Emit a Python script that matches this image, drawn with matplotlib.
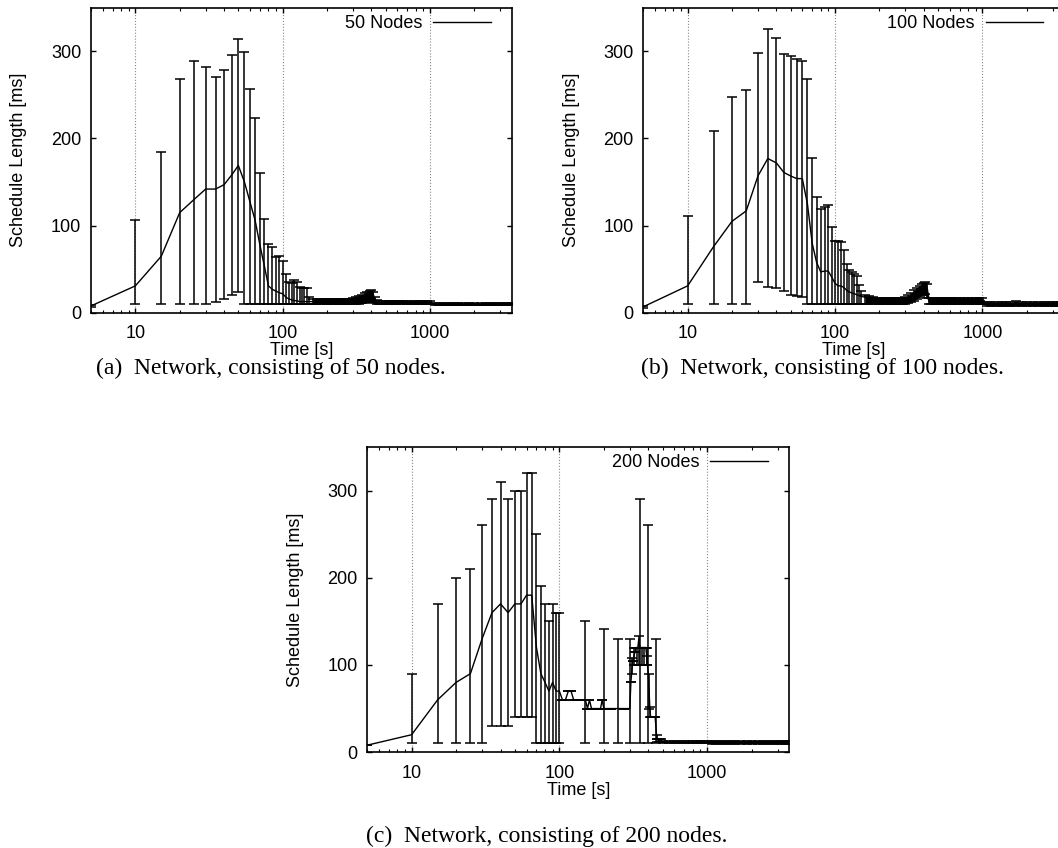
import numpy as np
import matplotlib
matplotlib.use("Agg")
import matplotlib.pyplot as plt
from matplotlib.ticker import LogLocator, NullFormatter

SANS = ["Liberation Sans", "DejaVu Sans"]
SERIF = ["Liberation Serif", "DejaVu Serif"]
plt.rcParams["font.family"] = SANS

# ---------------- data ----------------
# common sampling of the first 150 s (every 5 s)
early_t = [5, 10, 15, 20, 25, 30, 35, 40, 45, 50, 55, 60, 65, 70, 75,
           80, 85, 90, 95, 100, 105, 110, 115, 120, 125, 130, 135, 140, 145, 150]

# later sample times used for the long tail
tail_t = [160, 170, 180, 190, 200, 210, 220, 230, 240, 250,
          260, 270, 280, 290, 300, 315, 330, 345, 360, 375,
          390, 400, 410, 420, 435, 450, 475, 500, 525, 550,
          575, 600, 625, 650, 700, 750, 800, 850, 900, 950,
          1000, 1075, 1150, 1250, 1350, 1450, 1550, 1700, 1850, 2000,
          2200, 2400, 2600, 2800, 3000, 3200, 3400, 3600]

# ---- 50 nodes ----
a_early_mean = [8, 31, 65, 115, 130, 142, 142, 147, 158, 169, 150, 127, 106, 78, 54,
                31, 27, 25, 23, 22, 18, 16, 15, 14, 14, 13, 13, 13, 13, 13]
a_early_lo = [7, 10, 10, 10, 10, 10, 13, 16, 21, 24, 10, 10, 10, 10, 10,
              10, 10, 10, 10, 10, 10, 10, 10, 10, 10, 10, 10, 10, 10, 10]
a_early_hi = [9, 106, 184, 268, 289, 282, 271, 279, 296, 314, 299, 257, 223, 160, 108,
              79, 75, 64, 65, 59, 45, 35, 34, 38, 35, 30, 29, 29, 28, 18]
a_tail_mean = [13, 13, 13, 13, 13, 13, 13, 13, 13, 13,
               13, 13, 13, 13, 13.5, 14, 15, 16, 17.5, 19,
               20, 20, 18, 14, 12, 11.5, 11.5, 11.5, 11.5, 11.5,
               11.5, 11.5, 11.5, 11.5, 11.5, 11.5, 11.5, 11.5, 11.5, 11.5,
               11.5, 10, 10, 10, 10, 10, 10, 10, 10, 10,
               10, 10, 10, 10, 10, 10, 10, 10]
a_tail_lo = [10, 10, 10, 10, 10, 10, 10, 10, 10, 10,
             10, 10, 10, 10, 10, 10, 10.5, 11, 11.5, 12,
             13, 13, 12, 11, 10, 10, 10, 10, 10, 10,
             10, 10, 10, 10, 10, 10, 10, 10, 10, 10,
             10, 8.5, 8.5, 8.5, 8.5, 8.5, 8.5, 8.5, 8.5, 8.5,
             8.5, 8.5, 8.5, 8.5, 8.5, 8.5, 8.5, 8.5]
a_tail_hi = [16, 16, 16, 16, 16, 16, 16, 16, 16, 16,
             16, 16, 16, 16, 17, 18, 19.5, 21, 22.5, 24,
             25.5, 26, 24, 18, 14.5, 13.5, 13.5, 13.5, 13.5, 13.5,
             13.5, 13.5, 13.5, 13.5, 13.5, 13.5, 13.5, 13.5, 13.5, 13.5,
             13.5, 11.5, 11.5, 11.5, 11.5, 11.5, 11.5, 11.5, 11.5, 11.5,
             11.5, 11.5, 11.5, 11.5, 11.5, 11.5, 11.5, 11.5]

# ---- 100 nodes ----
b_early_mean = [7, 31, 76, 105, 117, 157, 177, 172, 161, 157, 154, 154, 125, 80, 58,
                47, 48, 48, 41, 34, 31, 31, 29, 26, 24, 23, 22, 21, 20, 19]
b_early_lo = [6, 10, 10, 10, 10, 36, 30, 29, 25, 20, 19, 18, 10, 10, 10,
              10, 10, 10, 10, 10, 10, 10, 10, 10, 10, 10, 10, 10, 10, 10]
b_early_hi = [8, 111, 208, 247, 256, 298, 326, 315, 297, 294, 291, 289, 268, 178, 133,
              119, 122, 124, 99, 83, 82, 81, 72, 56, 49, 47, 45, 42, 32, 25]
b_tail_mean = [18, 17, 16, 15, 14, 14, 14, 14, 14, 14,
               14, 14, 14, 14, 15, 16, 18, 20, 23, 25,
               27, 28, 29, 26, 14, 13.5, 13.5, 13.5, 13.5, 13.5,
               13.5, 13.5, 13.5, 13.5, 13.5, 13.5, 13.5, 13.5, 13.5, 13.5,
               13.5, 10, 10, 10, 10, 10, 10, 11, 10, 10,
               10, 10, 10, 10, 10, 10, 10, 10]
b_tail_lo = [10, 10, 10, 10, 10, 10, 10, 10, 10, 10,
             10, 10, 10, 10, 10.5, 11, 12, 14, 16, 18,
             20, 21, 22, 17, 10, 10, 10, 10, 10, 10,
             10, 10, 10, 10, 10, 10, 10, 10, 10, 10,
             10, 8, 8, 8, 8, 8, 8, 8, 8, 8,
             8, 8, 8, 8, 8, 8, 8, 8]
b_tail_hi = [20, 19, 18, 17, 17, 17, 17, 17, 17, 17,
             17, 17, 17, 17, 18, 20, 23, 26, 29, 31,
             33, 34, 35, 33, 17, 17, 17, 17, 17, 17,
             17, 17, 17, 17, 17, 17, 17, 17, 17, 17,
             17, 12, 12, 12, 12, 12, 12, 13.5, 12, 12,
             12, 12, 12, 12, 12, 12, 12, 12]

# ---- 200 nodes ----
c_early_t = [5, 10, 15, 20, 25, 30, 35, 40, 45, 50,
             55, 60, 65, 70, 75, 80, 85, 90, 95, 100]
c_early_mean = [8, 20, 60, 80, 90, 130, 160, 170, 160, 170,
                170, 180, 180, 120, 90, 80, 70, 80, 70, 70]
c_early_lo = [8, 10, 10, 10, 10, 10, 30, 30, 30, 40,
              40, 40, 40, 10, 10, 10, 10, 10, 10, 10]
c_early_hi = [8, 90, 170, 200, 210, 260, 290, 310, 290, 300,
              300, 320, 320, 250, 190, 170, 150, 170, 160, 160]
c_mid_t = [105, 110, 115, 120, 125, 130, 140, 150, 155, 160,
           165, 170, 180, 190, 195, 200, 210, 225, 250, 275,
           300, 305, 310, 315, 320, 325, 330, 335, 340, 345,
           350, 355, 360, 365, 370, 375, 380, 385, 390, 395,
           400, 405, 410, 415, 420, 430, 440, 445, 450, 455,
           460, 470, 480, 490, 495, 500, 550, 600, 650, 700,
           750, 800, 850, 900, 950, 1000]
c_mid_mean = [60, 60, 70, 70, 60, 60, 60, 60, 50, 60,
              50, 50, 50, 50, 60, 50, 50, 50, 50, 50,
              50, 80, 95, 105, 110, 115, 120, 120, 120, 130,
              120, 120, 120, 120, 120, 120, 120, 120, 110, 100,
              90, 70, 50, 40, 40, 40, 40, 40, 30, 20,
              15, 14, 14, 14, 12, 11, 11, 11, 11, 11,
              11, 11, 11, 11, 11, 11]
c_mid_lo = [60, 60, 70, 70, 60, 60, 60, 10, 50, 60,
            50, 50, 50, 50, 60, 10, 50, 50, 10, 50,
            10, 80, 90, 105, 100, 115, 120, 100, 120, 100,
            10, 120, 100, 120, 120, 100, 120, 120, 100, 100,
            10, 50, 40, 40, 40, 40, 40, 40, 10, 15,
            12, 12, 12, 12, 12, 10, 10, 10, 10, 10,
            10, 10, 10, 10, 10, 10]
c_mid_hi = [60, 60, 70, 70, 60, 60, 60, 150, 50, 60,
            50, 50, 50, 50, 60, 141, 50, 50, 130, 50,
            130, 80, 108, 105, 120, 115, 120, 120, 120, 133,
            290, 120, 120, 120, 120, 120, 120, 120, 120, 110,
            260, 90, 52, 40, 40, 40, 40, 40, 130, 20,
            15, 15, 15, 15, 12, 13, 13, 13, 13, 13,
            13, 13, 13, 13, 13, 13]
c_tail_t = [1000, 1075, 1150, 1250, 1350, 1450, 1550, 1700, 1850, 2000,
            2200, 2400, 2600, 2800, 3000, 3200, 3400, 3600]
c_tail_mean = [11, 11, 11, 11, 11, 11, 11, 11, 11, 11,
               11, 11, 11, 11, 11, 11, 11, 11]
c_tail_lo = [9, 9, 9, 9, 9, 9, 9, 9, 9, 9,
             9, 9, 9, 9, 9, 9, 9, 9]
c_tail_hi = [13, 13, 13, 13, 13, 13, 13, 13, 13, 13,
             13, 13, 13, 13, 13, 13, 13, 13]

series_labels = ["50 Nodes", "100 Nodes", "200 Nodes"]
captions = ["(a)  Network, consisting of 50 nodes.",
            "(b)  Network, consisting of 100 nodes.",
            "(c)  Network, consisting of 200 nodes."]
x_ticks = [10, 100, 1000]
x_ticklabels = ["10", "100", "1000"]
y_ticks = [0, 100, 200, 300]

# ---------------- drawing ----------------
fig = plt.figure(figsize=(10.58, 8.48), dpi=100)
FS = 13


def panel(rect, t, mean, lo, hi, band, label, caption, cap_xy):
    ax = fig.add_axes(rect)
    t = np.asarray(t, float)
    m = np.asarray(mean, float)
    lo = np.asarray(lo, float)
    hi = np.asarray(hi, float)
    yerr = np.vstack([np.maximum(m - lo, 0), np.maximum(hi - m, 0)])
    # densely overlapping min/max bars of the long tail appear as a solid band
    bt, blo, bhi = band
    ax.fill_between(bt, blo, bhi, color='black', lw=0, zorder=2)
    ax.errorbar(t, m, yerr=yerr, fmt='none', ecolor='black', elinewidth=1.1,
                capsize=3.5, capthick=1.1, zorder=2)
    ax.plot(t, m, color='black', lw=1.0, label=label, zorder=3)
    ax.set_xscale('log')
    ax.set_xlim(5, 3600)
    ax.set_ylim(0, 350)
    ax.set_yticks(y_ticks)
    ax.set_xticks(x_ticks)
    ax.set_xticklabels(x_ticklabels)
    ax.xaxis.set_minor_locator(LogLocator(base=10, subs=np.arange(2, 10)))
    ax.xaxis.set_minor_formatter(NullFormatter())
    ax.tick_params(which='both', direction='in', top=True, right=True,
                   labelsize=FS, pad=7)
    ax.tick_params(axis='x', which='major', pad=9)
    ax.tick_params(which='major', length=3.5, width=1)
    ax.tick_params(which='minor', length=2, width=0.8)
    ax.set_axisbelow(True)
    ax.grid(axis='x', which='major', linestyle=':', color='#888888', lw=0.8)
    for s in ax.spines.values():
        s.set_linewidth(1.2)
    ax.set_xlabel('Time [s]', fontsize=FS, labelpad=0)
    ax.set_ylabel('Schedule Length [ms]', fontsize=FS, labelpad=17)
    ax.legend(loc='upper right', bbox_to_anchor=(0.95, 0.976), frameon=False,
              markerfirst=False, handlelength=3.2, handletextpad=0.6,
              borderpad=0, borderaxespad=0, fontsize=FS)
    fig.text(cap_xy[0], cap_xy[1], caption, family=SERIF, fontsize=17,
             ha='center', va='center')
    return ax


panel([0.086, 0.631, 0.398, 0.360], early_t + tail_t,
      a_early_mean + a_tail_mean, a_early_lo + a_tail_lo, a_early_hi + a_tail_hi,
      (tail_t, a_tail_lo, a_tail_hi),
      series_labels[0], captions[0], (0.256, 0.566))
panel([0.608, 0.631, 0.398, 0.360], early_t + tail_t,
      b_early_mean + b_tail_mean, b_early_lo + b_tail_lo, b_early_hi + b_tail_hi,
      (tail_t, b_tail_lo, b_tail_hi),
      series_labels[1], captions[1], (0.777, 0.566))
panel([0.347, 0.113, 0.399, 0.360], c_early_t + c_mid_t + c_tail_t[1:],
      c_early_mean + c_mid_mean + c_tail_mean[1:],
      c_early_lo + c_mid_lo + c_tail_lo[1:],
      c_early_hi + c_mid_hi + c_tail_hi[1:],
      (c_tail_t, c_tail_lo, c_tail_hi),
      series_labels[2], captions[2], (0.517, 0.0133))

fig.savefig("out.png", dpi=100)
